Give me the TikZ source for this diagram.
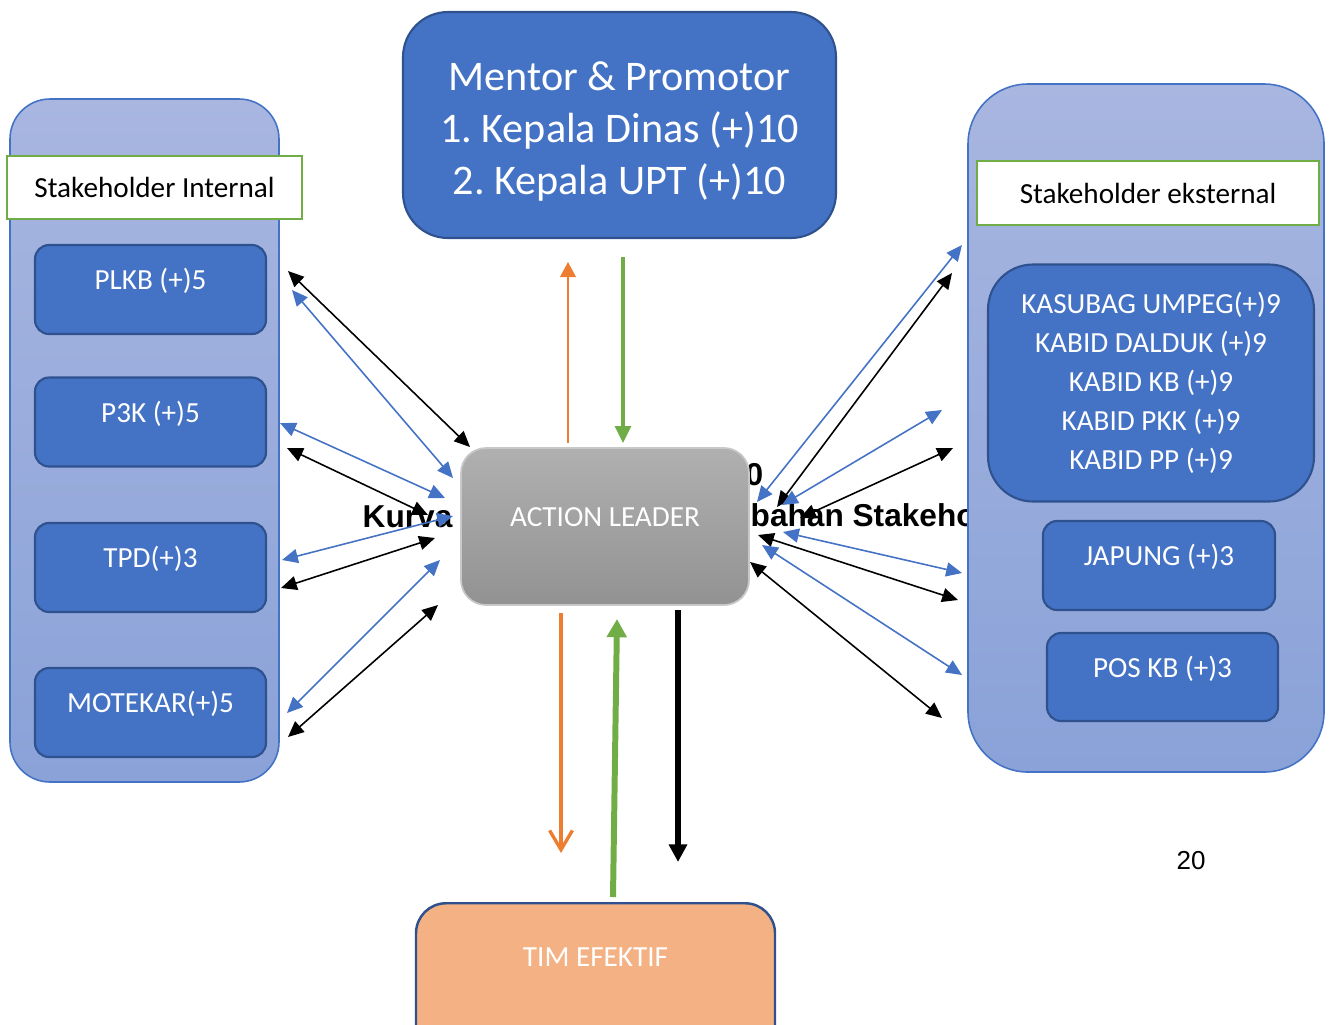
\documentclass[tikz,border=0pt]{standalone}
\usepackage{fontspec}
\setmainfont{Carlito}
\newfontfamily\arialfont{Liberation Sans}
\usetikzlibrary{arrows.meta}
\definecolor{boxblue}{HTML}{4472C4}
\definecolor{boxedge}{HTML}{2F528F}
\definecolor{paletop}{HTML}{A8B6E0}
\definecolor{palebot}{HTML}{8AA2D8}
\definecolor{leafgreen}{HTML}{70AD47}
\definecolor{tangerine}{HTML}{ED7D31}
\definecolor{peach}{HTML}{F4B183}
\definecolor{greytop}{HTML}{B0B0B0}
\definecolor{greybot}{HTML}{929292}
\frenchspacing
\begin{document}
\begin{tikzpicture}[
  group/.style={draw=boxblue, line width=0.45pt, top color=paletop, bottom color=palebot, inner sep=0pt},
  tag/.style={draw=leafgreen, line width=0.8pt, fill=white, inner sep=0pt, font=\fontsize{8.3}{10}\selectfont},
  ibox/.style={draw=boxedge, line width=0.6pt, fill=boxblue, text=white, rounded corners=0.14cm, inner sep=0pt,
    minimum width=2.31cm, minimum height=0.89cm, text height=6pt, text depth=6pt, font=\fontsize{8.3}{10}\selectfont},
  bigbox/.style={draw=boxedge, line width=0.6pt, fill=boxblue, text=white, inner sep=0pt, align=center},
  hidden/.style={font=\arialfont\bfseries\fontsize{9}{10}\selectfont, inner sep=0pt},
  dbl/.style={line width=0.45pt, {Triangle[length=4.5pt,width=4pt]}-{Triangle[length=4.5pt,width=4pt]}}
]
\useasboundingbox (0,0) rectangle (13.31,-10.24);
\clip (0,0) rectangle (13.31,-10.24);

\node [group, rounded corners=0.4cm, minimum width=2.69cm, minimum height=6.83cm] (grpint) at (1.445,-4.405) {};
\node [tag, minimum width=2.95cm, minimum height=0.63cm] (tagint) at (1.545,-1.875) {Stakeholder Internal};
\node [ibox] (plkb) at (1.505,-2.895) {PLKB (+)5};
\node [ibox] (pppk) at (1.505,-4.22) {P3K (+)5};
\node [ibox] (tpd) at (1.505,-5.675) {TPD(+)3};
\node [ibox] (motekar) at (1.505,-7.125) {MOTEKAR(+)5};

\node [hidden, anchor=base west] (kurva) at (3.62,-5.27) {Kurva};
\node [hidden, anchor=base] (nol) at (7.545,-4.85) {0};
\node [hidden, anchor=base west] (bahan) at (7.50,-5.26) {bahan Stakeho};

\node [draw=greytop!70!white, line width=0.5pt, top color=greytop, bottom color=greybot, text=white,
  rounded corners=0.25cm, inner sep=0pt, minimum width=2.88cm, minimum height=1.57cm,
  text height=6pt, text depth=6pt, font=\fontsize{8.3}{10}\selectfont] (leader) at (6.05,-5.265) {ACTION LEADER};

\node [group, rounded corners=0.6cm, minimum width=3.56cm, minimum height=6.88cm] (grpext) at (11.46,-4.28) {};
\node [tag, minimum width=3.42cm, minimum height=0.64cm] (tagext) at (11.48,-1.93) {Stakeholder eksternal};
\node [bigbox, rounded corners=0.45cm, minimum width=3.26cm, minimum height=2.37cm, font=\fontsize{8.3}{11.1}\selectfont] (kabid) at (11.51,-3.83)
  {KASUBAG UMPEG(+)9\\KABID DALDUK (+)9\\KABID KB (+)9\\KABID PKK (+)9\\KABID PP (+)9};
\node [ibox, minimum width=2.32cm] (japung) at (11.59,-5.655) {JAPUNG (+)3};
\node [ibox, minimum height=0.88cm] (poskb) at (11.625,-6.77) {POS KB (+)3};

\node [bigbox, rounded corners=0.45cm, minimum width=4.33cm, minimum height=2.26cm, font=\fontsize{12}{14.8}\selectfont] (mentor) at (6.195,-1.25)
  {\rule{0pt}{11.8pt}Mentor \& Promotor\\1. Kepala Dinas (+)10\\2. Kepala UPT (+)10};

\node [draw=boxedge, line width=0.7pt, fill=peach, text=white, rounded corners=0.3cm, inner sep=0pt, anchor=north,
  minimum width=3.59cm, minimum height=1.6cm, text height=6pt, text depth=15.5pt, font=\fontsize{8.3}{10}\selectfont] (tim) at (5.955,-9.02) {TIM EFEKTIF};

\node [font=\arialfont\fontsize{7.4}{9}\selectfont, inner sep=0pt] (page) at (11.91,-8.61) {20};

\coordinate (la1) at (2.88,-2.71);
\coordinate (lb1) at (4.70,-4.47);
\coordinate (la2) at (2.92,-2.90);
\coordinate (lb2) at (4.53,-4.78);
\coordinate (la3) at (2.80,-4.23);
\coordinate (lb3) at (4.45,-4.98);
\coordinate (la4) at (2.87,-4.48);
\coordinate (lb4) at (4.28,-5.15);
\coordinate (la5) at (2.82,-5.60);
\coordinate (lb5) at (4.53,-5.16);
\coordinate (la6) at (2.81,-5.88);
\coordinate (lb6) at (4.35,-5.38);
\coordinate (la7) at (2.87,-7.13);
\coordinate (lb7) at (4.40,-5.60);
\coordinate (la8) at (2.88,-7.37);
\coordinate (lb8) at (4.38,-6.05);

\coordinate (ra1) at (9.62,-2.45);
\coordinate (rb1) at (7.57,-5.02);
\coordinate (ra2) at (9.52,-2.73);
\coordinate (rb2) at (7.77,-5.07);
\coordinate (ra3) at (9.42,-4.10);
\coordinate (rb3) at (7.82,-5.05);
\coordinate (ra4) at (9.53,-4.48);
\coordinate (rb4) at (8.00,-5.18);
\coordinate (ra5) at (9.62,-5.73);
\coordinate (rb5) at (7.83,-5.32);
\coordinate (ra6) at (9.58,-6.00);
\coordinate (rb6) at (7.58,-5.35);
\coordinate (ra7) at (9.62,-6.75);
\coordinate (rb7) at (7.62,-5.45);
\coordinate (ra8) at (9.42,-7.18);
\coordinate (rb8) at (7.50,-5.62);

\draw [dbl] (la1) -- (lb1);
\draw [dbl, boxblue] (la2) -- (lb2);
\draw [dbl, boxblue] (la3) -- (lb3);
\draw [dbl] (la4) -- (lb4);
\draw [dbl, boxblue] (la5) -- (lb5);
\draw [dbl] (la6) -- (lb6);
\draw [dbl, boxblue] (la7) -- (lb7);
\draw [dbl] (la8) -- (lb8);

\draw [dbl, boxblue] (ra1) -- (rb1);
\draw [dbl] (ra2) -- (rb2);
\draw [dbl, boxblue] (ra3) -- (rb3);
\draw [dbl] (ra4) -- (rb4);
\draw [dbl, boxblue] (ra5) -- (rb5);
\draw [dbl] (ra6) -- (rb6);
\draw [dbl, boxblue] (ra7) -- (rb7);
\draw [dbl] (ra8) -- (rb8);

\coordinate (upa) at (5.68,-4.43);
\coordinate (upb) at (5.68,-2.62);
\coordinate (dna) at (6.23,-2.57);
\coordinate (dnb) at (6.23,-4.43);
\coordinate (ora) at (5.61,-6.13);
\coordinate (orb) at (5.61,-8.53);
\coordinate (gra) at (6.13,-8.97);
\coordinate (grb) at (6.17,-6.19);
\coordinate (bka) at (6.78,-6.10);
\coordinate (bkb) at (6.78,-8.62);

\draw [tangerine, line width=0.45pt, -{Triangle[length=4.3pt,width=4.5pt]}] (upa) -- (upb);
\draw [leafgreen, line width=0.9pt, -{Triangle[length=4.8pt,width=4.5pt]}] (dna) -- (dnb);
\draw [tangerine, line width=0.95pt, -{Straight Barb[length=5.5pt,width=6.5pt]}] (ora) -- (orb);
\draw [leafgreen, line width=1.7pt, -{Triangle[length=5.2pt,width=5.5pt]}] (gra) -- (grb);
\draw [black, line width=1.7pt, -{Triangle[length=5pt,width=5pt]}] (bka) -- (bkb);
\end{tikzpicture}
\end{document}
